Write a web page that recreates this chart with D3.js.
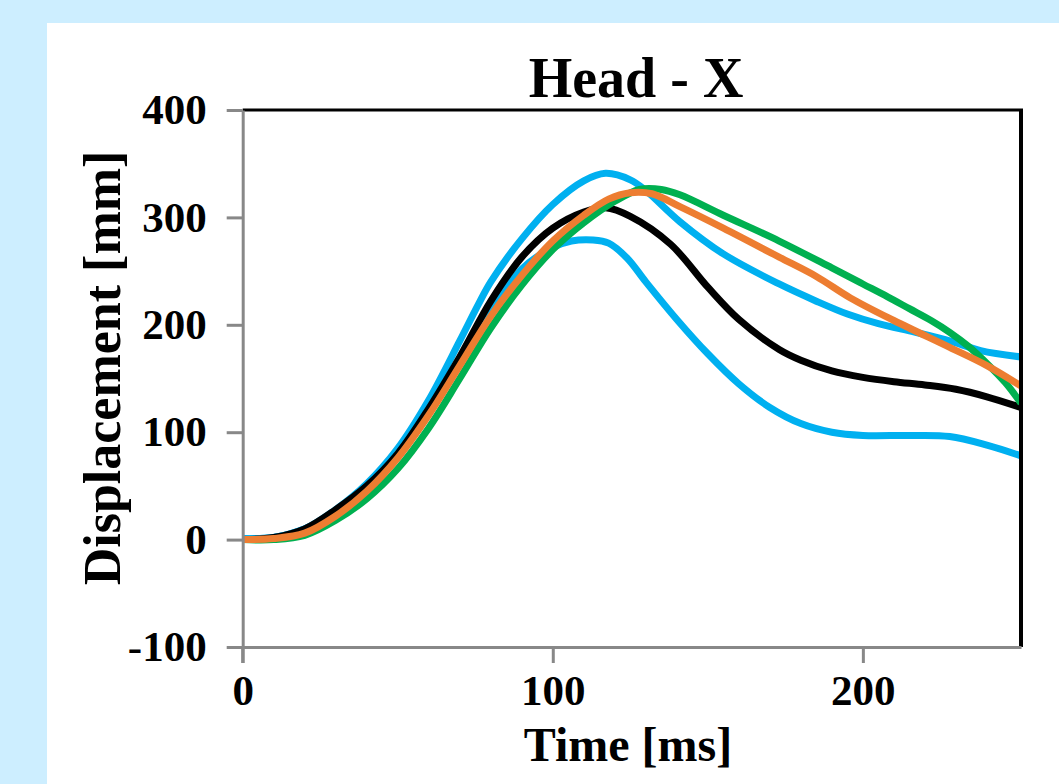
<!DOCTYPE html>
<html>
<head>
<meta charset="utf-8">
<script src="https://cdn.jsdelivr.net/npm/d3@7"></script>
<style>
  body { margin: 0; background: #cdeeff; }
  svg { display: block; }
</style>
</head>
<body>
<svg id="chart" width="1059" height="784"></svg>
<script>
// data: [time ms, displacement mm]
var blackSeries = [[0,0],[10,2],[20,10],[30,28],[40,50],[50,80],[60,122],[70,170],[80,222],[90,263],[100,290],[110,305],[117,309],[125,301],[138,275],[150,235],[160,205],[173,177],[180,167],[190,157],[200,151],[210,147],[220,144],[230,140],[240,133],[251,123]];
var orangeSeries = [[0,0],[10,1],[20,6],[30,22],[40,45],[50,76],[60,116],[70,162],[80,208],[90,246],[100,278],[110,302],[118,317],[125,323],[132,322],[141,310],[155,290],[173,263],[185,245],[196,225],[210,204],[228,179],[240,162],[251,143]];
var greenSeries = [[0,0],[10,0],[20,4],[30,18],[40,38],[50,66],[60,104],[70,150],[80,197],[90,237],[100,270],[110,295],[120,315],[128,326],[135,326],[141,321],[155,302],[173,278],[190,253],[200,238],[208,226],[215,215],[222,204],[228,193],[234,180],[240,164],[246,146],[251,127]];
var blueUpper = [[0,1],[10,2],[20,10],[30,28],[40,52],[50,85],[60,130],[70,185],[76,219],[80,240],[90,280],[100,312],[110,334],[117,341],[125,335],[130,325],[141,296],[155,266],[173,238],[185,222],[195,210],[205,201],[217,193],[228,185],[238,176],[251,170]];
var blueLower = [[0,1],[10,2],[20,10],[30,26],[40,48],[50,78],[60,120],[70,167],[80,213],[90,252],[100,272],[106,278],[113,279],[118,276],[124,262],[130,240],[140,205],[150,173],[160,145],[170,123],[180,108],[190,100],[200,97],[215,97],[228,96],[240,88],[251,78]];

var xTicks = [0, 100, 200];
var yTicks = [-100, 0, 100, 200, 300, 400];

var svg = d3.select("#chart");

// white panel on the light blue page
svg.append("rect")
  .attr("x", 47)
  .attr("y", 23)
  .attr("width", 1059 - 47)
  .attr("height", 784 - 23)
  .attr("fill", "white");

var x = d3.scaleLinear().domain([0, 251]).range([242.7, 1021]),
  y = d3.scaleLinear().domain([-100, 400]).range([647, 110]);

var font = "'Liberation Serif', 'Times New Roman', serif";

svg.append("clipPath")
  .attr("id", "plot-clip")
  .append("rect")
  .attr("x", x(0))
  .attr("y", y(400) - 10)
  .attr("width", x(251) - x(0))
  .attr("height", y(-100) - y(400) + 10);

var line = d3.line()
  .x((d) => x(d[0]))
  .y((d) => y(d[1]))
  .curve(d3.curveCatmullRom.alpha(0.5));

var series = [
  { data: blueUpper, colour: "#00b0f0" },
  { data: blueLower, colour: "#00b0f0" },
  { data: blackSeries, colour: "#000000" },
  { data: greenSeries, colour: "#00b050" },
  { data: orangeSeries, colour: "#ed7d31" },
];

svg.append("g")
  .attr("clip-path", "url(#plot-clip)")
  .selectAll("path")
  .data(series)
  .join("path")
  .attr("d", (d) => line(d.data))
  .attr("fill", "none")
  .attr("stroke", (d) => d.colour)
  .attr("stroke-width", 7)
  .attr("stroke-linejoin", "round");

// top and right frame
svg.append("line")
  .attr("x1", x(0)).attr("x2", x(251) + 2)
  .attr("y1", y(400)).attr("y2", y(400))
  .attr("stroke", "black").attr("stroke-width", 3);
svg.append("line")
  .attr("x1", x(251)).attr("x2", x(251))
  .attr("y1", y(400)).attr("y2", y(-100))
  .attr("stroke", "black").attr("stroke-width", 4);

// axes (plain hyphen for negatives, like the original)
var fmt = (d) => String(d);
var yAxis = svg.append("g")
  .attr("transform", "translate(" + x(0) + ",0)")
  .call(d3.axisLeft(y).tickValues(yTicks).tickFormat(fmt).tickSize(16).tickPadding(20).tickSizeOuter(0));
var xAxis = svg.append("g")
  .attr("transform", "translate(0," + y(-100) + ")")
  .call(d3.axisBottom(x).tickValues(xTicks).tickFormat(fmt).tickSize(16).tickPadding(11).tickSizeOuter(0));

[yAxis, xAxis].forEach((g) => {
  g.select(".domain").attr("stroke", "#888").attr("stroke-width", 3);
  g.selectAll(".tick line").attr("stroke", "#888").attr("stroke-width", 3);
  g.selectAll(".tick text")
    .style("font-family", font)
    .style("font-weight", "bold")
    .style("font-size", "43px")
    .attr("fill", "black");
});
// left axis runs a little below the bottom axis
yAxis.append("line")
  .attr("x1", 0).attr("x2", 0)
  .attr("y1", y(-100)).attr("y2", y(-100) + 16)
  .attr("stroke", "#888").attr("stroke-width", 3);

// titles
svg.append("text")
  .attr("x", 636)
  .attr("y", 97)
  .attr("text-anchor", "middle")
  .style("font-family", font)
  .style("font-weight", "bold")
  .style("font-size", "56px")
  .text("Head - X");

svg.append("text")
  .attr("x", 628)
  .attr("y", 761)
  .attr("text-anchor", "middle")
  .style("font-family", font)
  .style("font-weight", "bold")
  .style("font-size", "48px")
  .text("Time [ms]");

svg.append("text")
  .attr("transform", "translate(120,368) rotate(-90)")
  .attr("text-anchor", "middle")
  .style("font-family", font)
  .style("font-weight", "bold")
  .style("font-size", "52px")
  .text("Displacement [mm]");
</script>
</body>
</html>
